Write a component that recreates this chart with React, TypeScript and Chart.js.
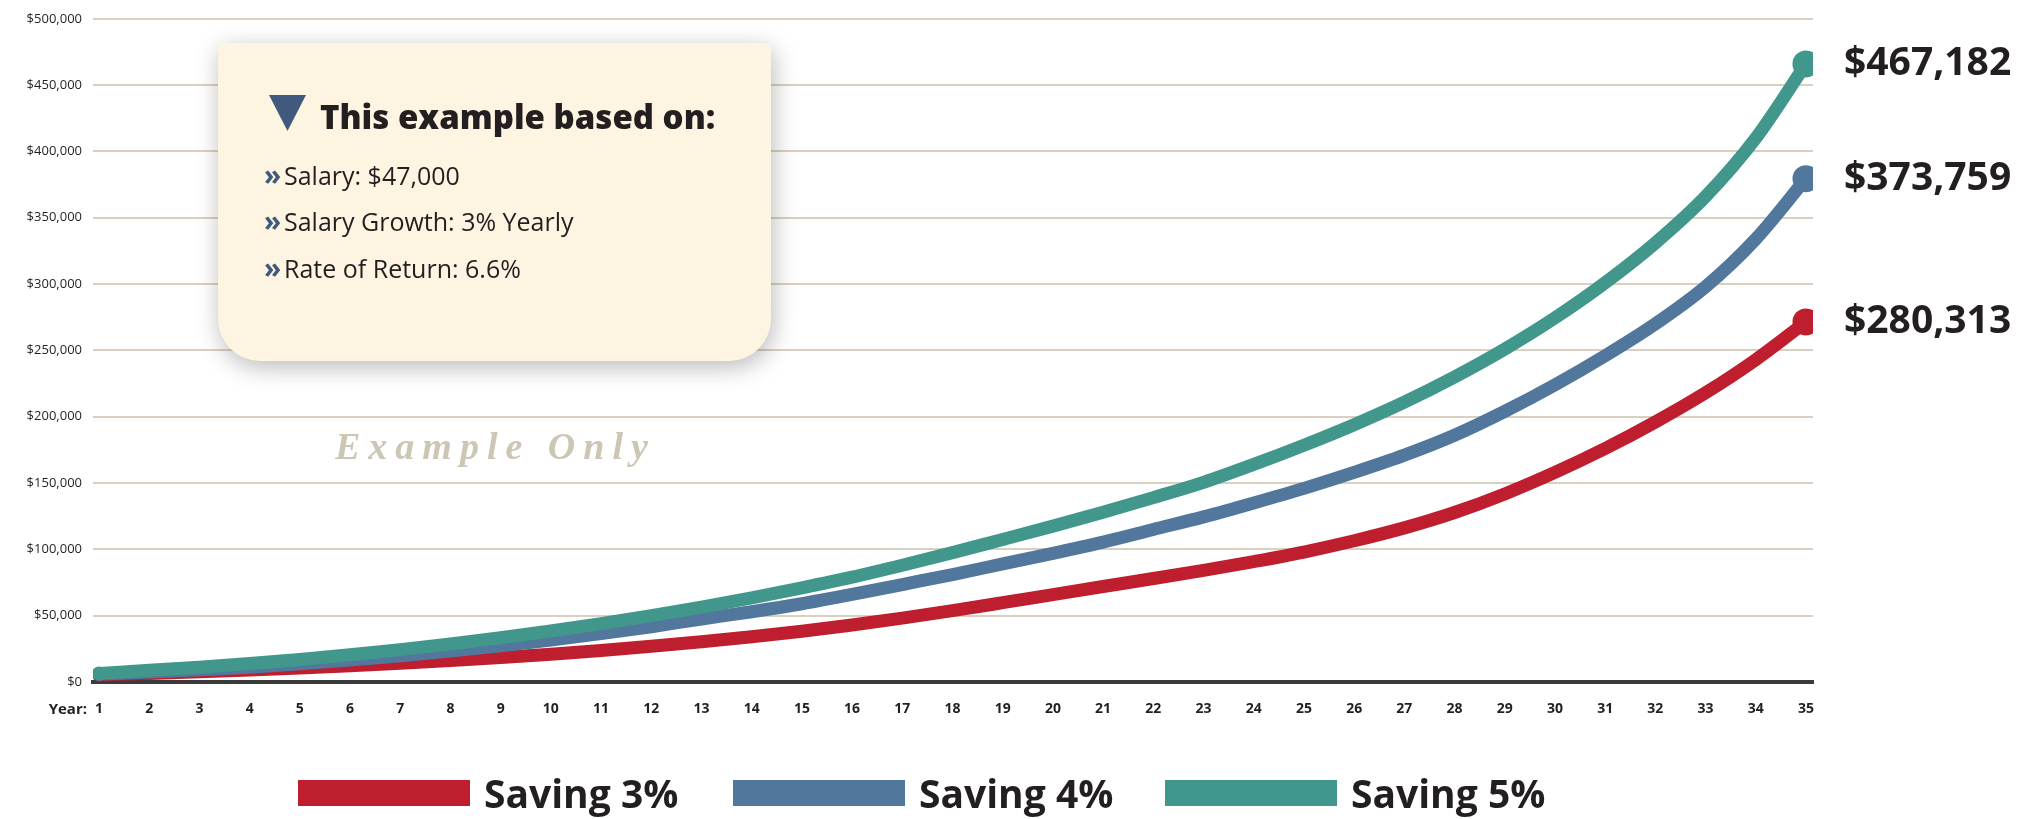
import React, { useEffect, useRef } from "react";
import { Chart, registerables } from "chart.js";

Chart.register(...registerables);

// ---------- data ----------
const years = [1, 2, 3, 4, 5, 6, 7, 8, 9, 10, 11, 12, 13, 14, 15, 16, 17, 18, 19, 20, 21, 22, 23, 24, 25, 26, 27, 28, 29, 30, 31, 32, 33, 34, 35];

const saving3 = [5500, 6500, 7700, 9000, 10500, 12200, 14100, 16200, 18500, 21000, 23800, 26900, 30300, 34100, 38300, 43000, 48200, 53800, 59800, 65900, 72000, 78000, 84200, 90800, 98000, 106500, 116200, 127800, 141800, 158000, 176000, 196000, 218000, 243000, 271500];

const saving4 = [6000, 7500, 9200, 11200, 13700, 16500, 19700, 23300, 27300, 31700, 36500, 41700, 47500, 53000, 59000, 66000, 73500, 81000, 89000, 97000, 105500, 115000, 124500, 135000, 146000, 158000, 171000, 186000, 204000, 224000, 246000, 270000, 298000, 334000, 379500];

const saving5 = [6500, 8800, 11200, 13900, 17000, 20500, 24400, 28700, 33400, 38500, 44000, 50000, 56500, 63500, 71000, 79000, 88000, 97500, 107500, 117500, 128000, 139000, 150500, 164000, 178500, 194000, 211000, 230000, 251000, 274500, 301000, 331000, 366000, 410000, 466000];

const seriesLabels = ["Saving 3%", "Saving 4%", "Saving 5%"];
const seriesColors = ["#BE1E2D", "#51789C", "#41978B"];
const endValueLabels = ["$280,313", "$373,759", "$467,182"];

const yMin = 0;
const yMax = 500000;
const yStep = 50000;
const xAxisTitle = "Year:";

const infoTitle = "This example based on:";
const infoLines = ["Salary: $47,000", "Salary Growth: 3% Yearly", "Rate of Return: 6.6%"];
const watermarkText = "Example Only";

// ---------- styles ----------
const TEXT = "#231f20";
const ACCENT = "#3f5a7e";
const GRID = "#d9d0bf";
const AXIS = "#3a3a3a";

function roundRectPath(ctx: CanvasRenderingContext2D, x: number, y: number, w: number, h: number, rt: number, rb: number) {
  ctx.beginPath();
  ctx.moveTo(x + rt, y);
  ctx.lineTo(x + w - rt, y);
  ctx.quadraticCurveTo(x + w, y, x + w, y + rt);
  ctx.lineTo(x + w, y + h - rb);
  ctx.arcTo(x + w, y + h, x + w - rb, y + h, rb);
  ctx.lineTo(x + rb, y + h);
  ctx.arcTo(x, y + h, x, y + h - rb, rb);
  ctx.lineTo(x, y + rt);
  ctx.quadraticCurveTo(x, y, x + rt, y);
  ctx.closePath();
}

const decorPlugin = {
  id: "decor",
  afterDraw(chart: any) {
    const ctx: CanvasRenderingContext2D = chart.ctx;
    const xs = chart.scales.x;
    ctx.save();

    // "Year:" axis caption
    ctx.font = "bold 15px 'Open Sans', sans-serif";
    ctx.fillStyle = TEXT;
    ctx.textAlign = "right";
    ctx.textBaseline = "middle";
    ctx.fillText(xAxisTitle, 87, xs.top + 19 + 9);

    // info box
    const bx = 218, by = 43, bw = 553, bh = 318;
    ctx.save();
    ctx.shadowColor = "rgba(0,0,0,0.28)";
    ctx.shadowBlur = 24;
    ctx.shadowOffsetX = 2;
    ctx.shadowOffsetY = 6;
    roundRectPath(ctx, bx, by, bw, bh, 6, 42);
    ctx.fillStyle = "#fdf4e1";
    ctx.fill();
    ctx.restore();

    // triangle marker
    ctx.fillStyle = ACCENT;
    ctx.beginPath();
    ctx.moveTo(269, 95);
    ctx.lineTo(306, 95);
    ctx.lineTo(287.5, 131);
    ctx.closePath();
    ctx.fill();

    ctx.textAlign = "left";
    ctx.textBaseline = "alphabetic";
    ctx.fillStyle = TEXT;
    ctx.font = "800 33px 'Open Sans', sans-serif";
    ctx.fillText(infoTitle, 320, 129);

    const baselines = [185, 231, 278];
    infoLines.forEach((t, i) => {
      ctx.fillStyle = ACCENT;
      ctx.font = "bold 28px 'Open Sans', sans-serif";
      ctx.fillText("\u00bb", 264, baselines[i]);
      ctx.fillStyle = TEXT;
      ctx.font = "25px 'Open Sans', sans-serif";
      ctx.fillText(t, 284, baselines[i]);
    });

    // watermark
    ctx.save();
    ctx.fillStyle = "#cdc6b5";
    ctx.font = "italic 600 38px 'Liberation Serif', serif";
    (ctx as any).letterSpacing = "8px";
    ctx.fillText(watermarkText, 335, 459);
    ctx.restore();

    // end value labels
    ctx.fillStyle = TEXT;
    ctx.font = "bold 39px 'Open Sans', sans-serif";
    ctx.textBaseline = "middle";
    const order = [2, 1, 0];
    chart.data.datasets.forEach((ds: any, di: number) => {
      const meta = chart.getDatasetMeta(di);
      const last = meta.data[meta.data.length - 1];
      ctx.fillText(endValueLabels[order[di]], 1844, last.y);
    });

    // legend
    const legendX = [298, 733, 1165];
    seriesLabels.forEach((lab, i) => {
      ctx.fillStyle = seriesColors[i];
      ctx.fillRect(legendX[i], 780, 172, 26);
      ctx.fillStyle = TEXT;
      ctx.font = "bold 39px 'Open Sans', sans-serif";
      ctx.textBaseline = "alphabetic";
      ctx.fillText(lab, legendX[i] + 186, 808);
    });

    ctx.restore();
  },
};

export default function App() {
  const canvasRef = useRef<HTMLCanvasElement | null>(null);

  useEffect(() => {
    if (!canvasRef.current) return;
    const last = years.length - 1;
    const radius = (c: any) => (c.dataIndex === last ? 13.5 : c.dataIndex === 0 ? 7 : 0);
    const mk = (vals: number[], idx: number) => ({
      label: seriesLabels[idx],
      data: years.map((y, i) => ({ x: y, y: vals[i] })),
      borderColor: seriesColors[idx],
      backgroundColor: seriesColors[idx],
      borderWidth: 13,
      borderCapStyle: "round" as const,
      borderJoinStyle: "round" as const,
      cubicInterpolationMode: "monotone" as const,
      fill: false,
      pointRadius: radius,
      pointHoverRadius: radius,
      pointBorderWidth: 0,
      pointBackgroundColor: seriesColors[idx],
    });

    const chart = new Chart(canvasRef.current, {
      type: "line",
      data: {
        // teal first so it is drawn on top
        datasets: [mk(saving5, 2), mk(saving4, 1), mk(saving3, 0)],
      },
      options: {
        responsive: false,
        maintainAspectRatio: false,
        devicePixelRatio: 1,
        animation: false,
        events: [],
        layout: { padding: { left: 0, right: 222, top: 15, bottom: 97 } },
        plugins: { legend: { display: false }, tooltip: { enabled: false } },
        scales: {
          x: {
            type: "linear",
            min: 0.88,
            max: 35.14,
            afterBuildTicks: (s: any) => {
              s.ticks = years.map((v) => ({ value: v }));
            },
            afterFit: (s: any) => {
              s.height = 40;
            },
            ticks: {
              autoSkip: false,
              maxRotation: 0,
              padding: 19,
              color: TEXT,
              font: { family: "'Open Sans', sans-serif", size: 14, weight: "bold" },
              callback: (v: any) => String(v),
            },
            grid: { display: false, drawTicks: false },
            border: { display: true, color: AXIS, width: 4 },
          },
          y: {
            min: yMin,
            max: yMax,
            afterFit: (s: any) => {
              s.width = 93;
            },
            ticks: {
              stepSize: yStep,
              padding: 11,
              color: TEXT,
              font: { family: "'Open Sans', sans-serif", size: 13 },
              callback: (v: any) => "$" + Number(v).toLocaleString("en-US"),
            },
            grid: {
              drawTicks: false,
              lineWidth: 2,
              color: (c: any) => (c.tick && c.tick.value === 0 ? "rgba(0,0,0,0)" : GRID),
            },
            border: { display: false },
          },
        },
      },
      plugins: [decorPlugin],
    });
    return () => chart.destroy();
  }, []);

  return (
    <div style={{ position: "absolute", left: 0, top: 0, width: 2035, height: 819, background: "#ffffff" }}>
      <canvas ref={canvasRef} width={2035} height={819} style={{ display: "block" }} />
    </div>
  );
}
